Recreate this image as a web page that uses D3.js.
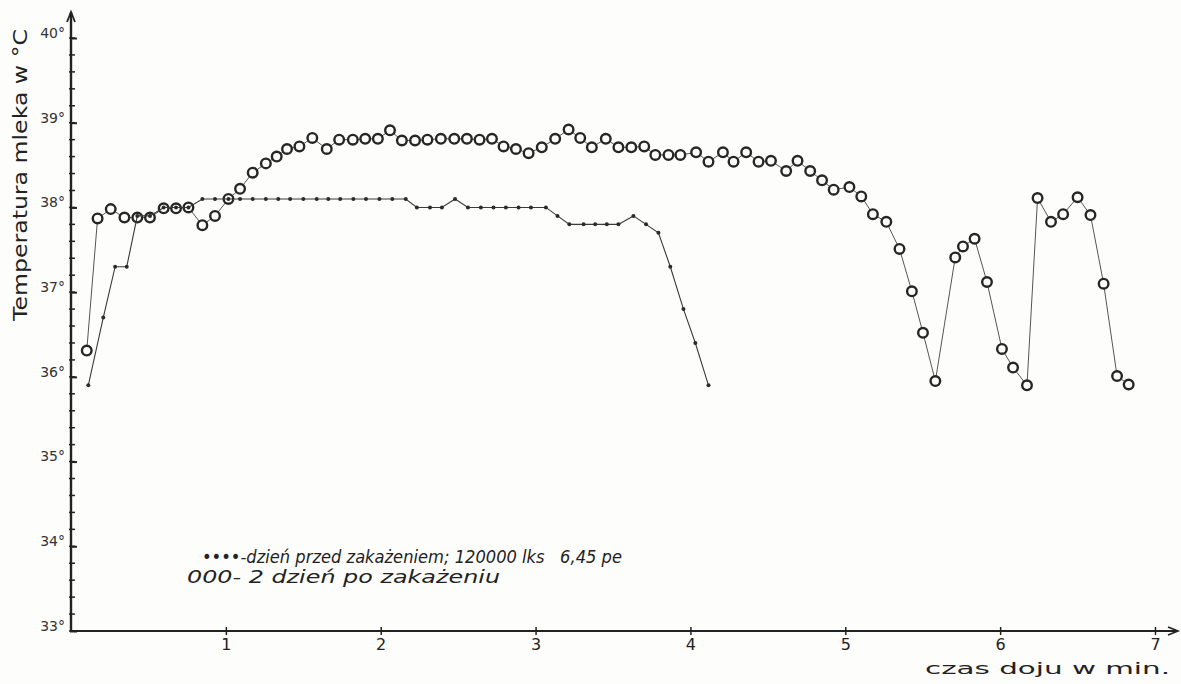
<!DOCTYPE html>
<html>
<head>
<meta charset="utf-8">
<script src="https://cdn.jsdelivr.net/npm/d3@7"></script>
<style>
  body { margin: 0; background: #fdfdfc; }
  svg { display: block; }
  text { font-family: "DejaVu Sans", sans-serif; fill: #222; }
</style>
</head>
<body>
<div class="chart"></div>
<script>
// time of reading (seconds) and milk temperature (deg C)
var dayBeforeTime = [6.7, 12.5, 17.1, 21.6, 25.7, 30.6, 35.9, 40.7, 45.5, 50.9, 55.8, 61.0, 65.5, 70.4, 75.5, 80.3,
  84.9, 90.0, 95.2, 99.7, 104.3, 109.4, 114.3, 119.5, 124.5, 129.7, 134.0, 139.1, 143.7, 148.8, 153.8, 158.8,
  163.7, 168.5, 173.4, 178.2, 184.0, 188.5, 193.1, 198.6, 203.1, 207.6, 212.1, 217.9, 222.8, 227.6, 232.2,
  237.3, 241.9, 247.0];
var dayBeforeTemp = [35.9, 36.7, 37.3, 37.3, 37.9, 37.9, 38.0, 38.0, 38.0, 38.1, 38.1, 38.1, 38.1, 38.1, 38.1, 38.1,
  38.1, 38.1, 38.1, 38.1, 38.1, 38.1, 38.1, 38.1, 38.1, 38.1, 38.0, 38.0, 38.0, 38.1, 38.0, 38.0,
  38.0, 38.0, 38.0, 38.0, 38.0, 37.9, 37.8, 37.8, 37.8, 37.8, 37.8, 37.9, 37.8, 37.7, 37.3,
  36.8, 36.4, 35.9];

var dayAfterTime = [6.1, 10.3, 15.4, 20.7, 25.7, 30.6, 35.9, 40.7, 45.5, 50.9, 55.8, 61.0, 65.5, 70.4, 75.5, 79.7,
  83.7, 88.5, 93.5, 99.1, 103.9, 109.2, 114.0, 118.9, 123.6, 128.2, 133.3, 138.1, 143.3, 148.5, 153.4, 158.3,
  163.1, 167.6, 172.4, 177.3, 182.4, 187.6, 192.8, 197.3, 201.8, 207.2, 212.1, 217.1, 222.1, 226.4, 231.5,
  236.1, 242.2, 247.0, 252.6, 256.7, 261.6, 266.4, 271.2, 277.1, 281.5, 286.4, 291.0, 295.5, 301.6, 306.2,
  310.7, 315.9, 321.0, 325.8, 330.1, 334.9, 342.6, 345.6, 350.1, 354.9, 360.7, 365.0, 370.4, 374.5, 379.7,
  384.4, 390.0, 395.0, 400.1, 405.3, 409.8];
var dayAfterTemp = [36.31, 37.87, 37.98, 37.88, 37.88, 37.88, 37.99, 37.99, 38.0, 37.79, 37.9, 38.1, 38.22, 38.41, 38.52, 38.6,
  38.69, 38.72, 38.82, 38.69, 38.8, 38.8, 38.81, 38.81, 38.91, 38.79, 38.79, 38.8, 38.81, 38.81, 38.81, 38.8,
  38.81, 38.72, 38.69, 38.64, 38.71, 38.81, 38.92, 38.82, 38.71, 38.81, 38.71, 38.71, 38.72, 38.62, 38.62,
  38.62, 38.65, 38.54, 38.65, 38.54, 38.65, 38.54, 38.55, 38.43, 38.55, 38.43, 38.32, 38.21, 38.24, 38.13,
  37.92, 37.83, 37.51, 37.01, 36.52, 35.95, 37.41, 37.54, 37.63, 37.12, 36.33, 36.11, 35.9, 38.11, 37.83,
  37.92, 38.12, 37.91, 37.1, 36.01, 35.91];

var xTicks = [1, 2, 3, 4, 5, 6, 7];
var yTicks = [33, 34, 35, 36, 37, 38, 39, 40];

var svgWidth = 1181;
var svgHeight = 684;

var svg = d3.select(".chart")
  .append("svg")
  .attr("width", svgWidth)
  .attr("height", svgHeight);

svg.append("rect")
  .attr("width", svgWidth)
  .attr("height", svgHeight)
  .attr("fill", "#fdfdfc");

var x = d3.scaleLinear().domain([0, 7]).range([71, 1155]);
var y = d3.scaleLinear().domain([33, 40]).range([631, 38]);

// axes lines with arrow heads
var ink = "#222";
svg.append("line")
  .attr("x1", x(0)).attr("x2", x(0))
  .attr("y1", y(33)).attr("y2", 12)
  .attr("stroke", ink).attr("stroke-width", 2.4);
svg.append("path")
  .attr("d", `M${x(0) - 4},${22} L${x(0)},${12} L${x(0) + 4},${22}`)
  .attr("fill", "none").attr("stroke", ink).attr("stroke-width", 1.8);

svg.append("line")
  .attr("x1", x(0)).attr("x2", 1178)
  .attr("y1", y(33)).attr("y2", y(33))
  .attr("stroke", ink).attr("stroke-width", 2);
svg.append("path")
  .attr("d", `M1168,${y(33) - 4} L1178,${y(33)} L1168,${y(33) + 4}`)
  .attr("fill", "none").attr("stroke", ink).attr("stroke-width", 1.6);

// minor y ticks every 0.2 deg
var minorVals = d3.range(33, 40.01, 0.2);
svg.append("g")
  .selectAll("line")
  .data(minorVals)
  .enter()
  .append("line")
  .attr("x1", x(0) - 2).attr("x2", x(0) + 4)
  .attr("y1", d => y(d)).attr("y2", d => y(d))
  .attr("stroke", ink).attr("stroke-width", 1.5);

// major y ticks + labels
var leftAxis = d3.axisRight(y)
  .tickValues(yTicks)
  .tickSize(7)
  .tickFormat(d => d + "°");
var yAxisG = svg.append("g")
  .attr("transform", `translate(${x(0) - 1}, 0)`)
  .call(leftAxis);
yAxisG.select(".domain").remove();
yAxisG.selectAll(".tick line").attr("stroke", ink).attr("stroke-width", 2);
yAxisG.selectAll(".tick text")
  .attr("x", -5)
  .attr("dy", "-0.05em")
  .attr("text-anchor", "end")
  .style("font-size", "14px")
  .style("fill", "#333");

// x ticks + labels
var bottomAxis = d3.axisBottom(x)
  .tickValues(xTicks)
  .tickSize(4)
  .tickFormat(d3.format("d"));
var xAxisG = svg.append("g")
  .attr("transform", `translate(0, ${y(33)})`)
  .call(bottomAxis);
xAxisG.select(".domain").remove();
xAxisG.selectAll(".tick line").attr("y1", -4).attr("stroke", ink).attr("stroke-width", 1.5);
xAxisG.selectAll(".tick text")
  .attr("y", 8)
  .style("font-size", "16px")
  .style("fill", "#222");

// series lines
var line = d3.line()
  .x(d => x(d[0] / 60))
  .y(d => y(d[1]));

var afterData = dayAfterTime.map((t, i) => [t, dayAfterTemp[i]]);
var beforeData = dayBeforeTime.map((t, i) => [t, dayBeforeTemp[i]]);

svg.append("path")
  .datum(afterData)
  .attr("d", line)
  .attr("fill", "none")
  .attr("stroke", "#555")
  .attr("stroke-width", 1);

svg.append("g")
  .selectAll("circle")
  .data(afterData)
  .enter()
  .append("circle")
  .attr("cx", d => x(d[0] / 60))
  .attr("cy", d => y(d[1]))
  .attr("r", 4.8)
  .attr("fill", "#fdfdfc")
  .attr("stroke", "#262626")
  .attr("stroke-width", 2.4);

svg.append("path")
  .datum(beforeData)
  .attr("d", line)
  .attr("fill", "none")
  .attr("stroke", "#3a3a3a")
  .attr("stroke-width", 1.1);

svg.append("g")
  .selectAll("circle")
  .data(beforeData)
  .enter()
  .append("circle")
  .attr("cx", d => x(d[0] / 60))
  .attr("cy", d => y(d[1]))
  .attr("r", 2)
  .attr("fill", "#2b2b2b");

// axis titles
svg.append("text")
  .attr("transform", "translate(27, 175) rotate(-90)")
  .attr("text-anchor", "middle")
  .attr("textLength", 292)
  .attr("lengthAdjust", "spacingAndGlyphs")
  .style("font-size", "19px")
  .text("Temperatura mleka w °C");

svg.append("text")
  .attr("x", 925)
  .attr("y", 674)
  .attr("textLength", 245)
  .attr("lengthAdjust", "spacingAndGlyphs")
  .style("font-size", "15px")
  .text("czas doju w min.");

// legend
svg.append("text")
  .attr("x", 202)
  .attr("y", 563)
  .attr("textLength", 420)
  .attr("lengthAdjust", "spacingAndGlyphs")
  .style("font-size", "17px")
  .style("font-style", "italic")
  .style("white-space", "pre")
  .text("••••-dzień przed zakażeniem; 120000 lks   6,45 pe");

svg.append("text")
  .attr("x", 187)
  .attr("y", 583)
  .attr("textLength", 313)
  .attr("lengthAdjust", "spacingAndGlyphs")
  .style("font-size", "17px")
  .style("font-style", "italic")
  .text("000- 2 dzień po zakażeniu");
</script>
</body>
</html>
